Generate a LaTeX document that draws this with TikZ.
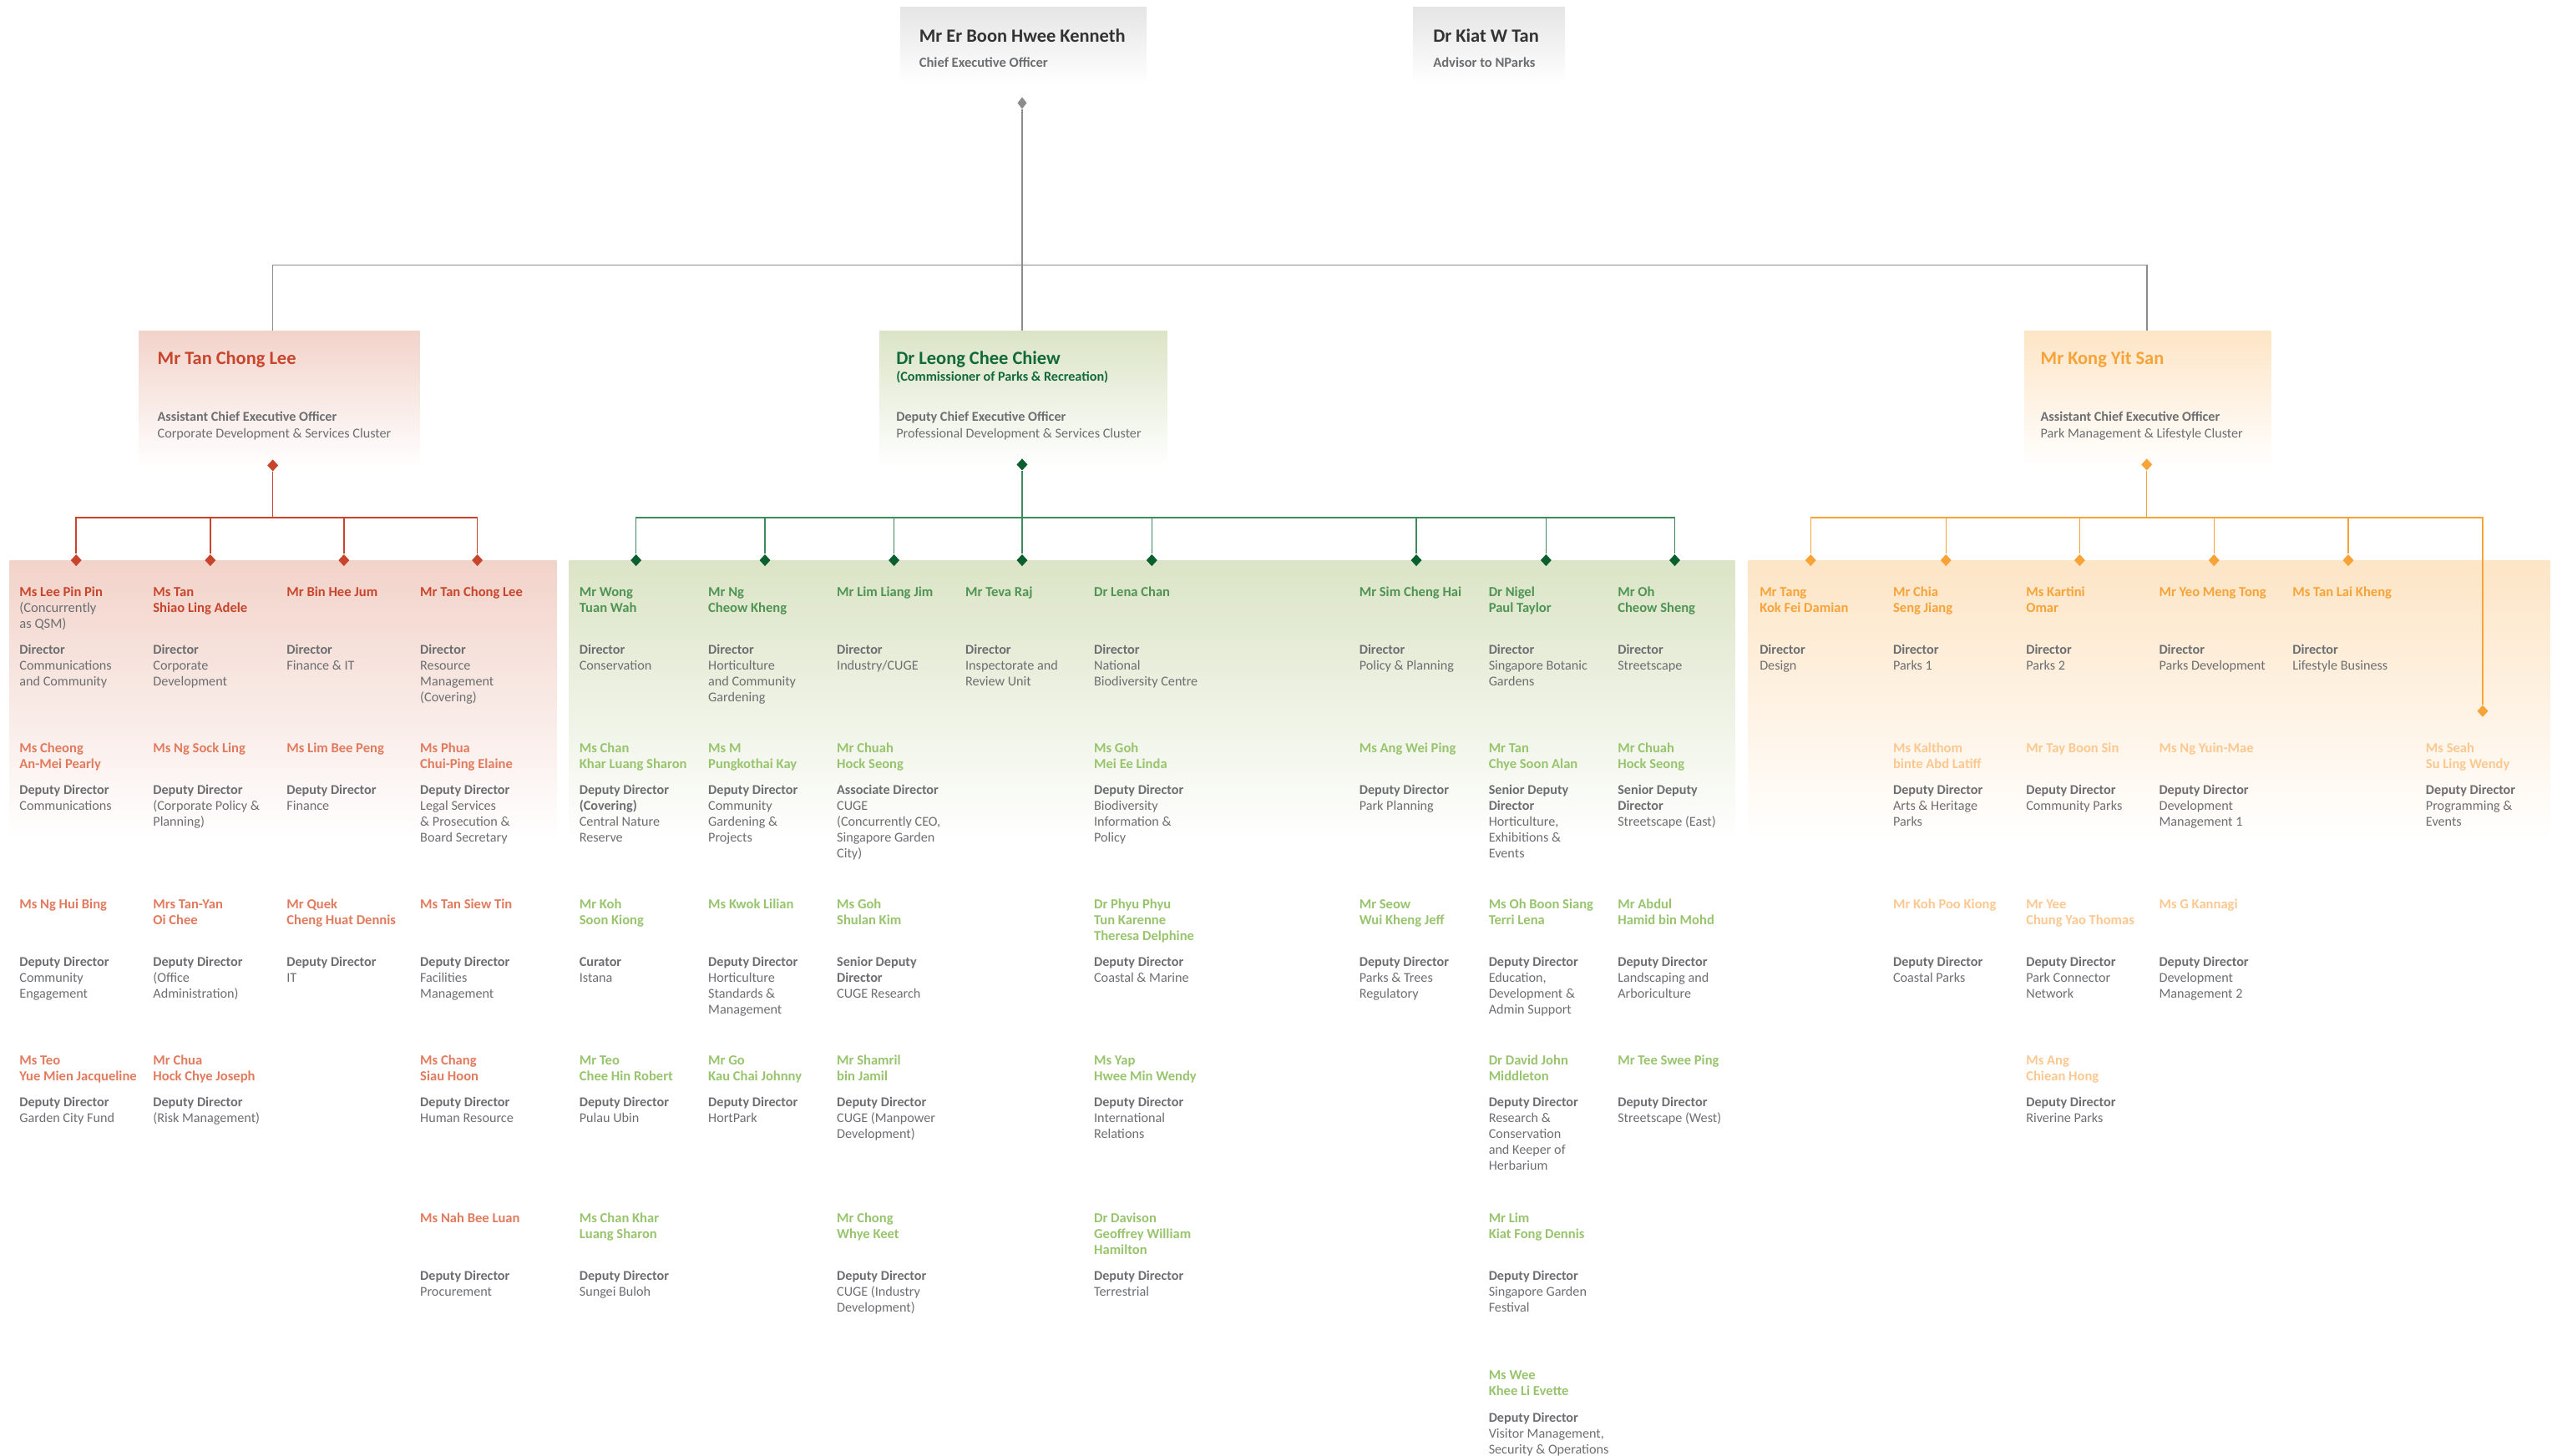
\documentclass[tikz,border=0pt]{standalone}
\usepackage{fontspec}
\setmainfont{Carlito}
\usetikzlibrary{shapes.geometric}
\definecolor{rdark}{HTML}{C8452C}
\definecolor{rlight}{HTML}{E27B5E}
\definecolor{rpanel}{HTML}{F2D3CA}
\definecolor{gdark}{HTML}{11693A}
\definecolor{gdia}{HTML}{0B5F2F}
\definecolor{gline}{HTML}{3E8A5C}
\definecolor{gmid}{HTML}{4F9455}
\definecolor{glight}{HTML}{98C46E}
\definecolor{gpanel}{HTML}{DBE4C6}
\definecolor{odark}{HTML}{F7A338}
\definecolor{olight}{HTML}{FCC890}
\definecolor{opanel}{HTML}{FDE5C6}
\definecolor{txt}{HTML}{6D6E71}
\definecolor{txtd}{HTML}{333333}
\definecolor{kline}{HTML}{8C8C8C}
\definecolor{kpanel}{HTML}{E5E5E5}
\def\ynA{359.6}\def\ytA{394.8}
\def\ynB{455.4}\def\ytB{481.2}
\def\ynC{551.5}\def\ytC{586.7}
\def\ynD{647.4}\def\ytD{673.1}
\def\ynE{744.4}\def\ytE{779.8}
\def\ynF{840.8}\def\ytF{866.8}
\newcommand\ttl[1]{\textbf{#1}}
\newcommand\reg[1]{{\mdseries\color{txt}#1}}
\newcommand\orgp[7]{%
  \node[nm,text=#5] (#1) at (#2,#3) {\rule{0pt}{7pt}#6};
  \node[rl] (#1r) at (#2,#4) {\rule{0pt}{7pt}#7};}
\begin{document}
\begin{tikzpicture}[x=1pt,y=-1pt,
  nm/.style={anchor=north west,inner sep=0pt,align=left,font=\bfseries\fontsize{8.5}{9.7}\selectfont},
  rl/.style={anchor=north west,inner sep=0pt,align=left,text=txt,font=\fontsize{8.3}{9.7}\selectfont},
  hn/.style={anchor=base west,inner sep=0pt,font=\bfseries\fontsize{11.5}{13}\selectfont},
  hr/.style={anchor=base west,inner sep=0pt,text=txt,font=\bfseries\fontsize{8.3}{9.7}\selectfont},
  hd/.style={anchor=base west,inner sep=0pt,text=txt,font=\fontsize{8.3}{9.7}\selectfont},
  hbox/.style={anchor=north west,inner sep=0pt,draw=none},
  dia/.style={shape=diamond,inner sep=0pt,minimum width=6.8pt,minimum height=7.4pt,draw=none},
  kdia/.style={dia,fill=kline,minimum width=5.8pt},
  rdia/.style={dia,fill=rdark},
  gdia/.style={dia,fill=gdia},
  odia/.style={dia,fill=odark},
  kl/.style={draw=kline,line width=0.8pt},
  rln/.style={draw=rdark,line width=0.75pt},
  gln/.style={draw=gline,line width=0.75pt},
  oln/.style={draw=odark,line width=0.75pt}]
\useasboundingbox (0,0) rectangle (1568,894.8);

% ---------- top boxes ----------
\node[hbox,minimum width=151.4pt,minimum height=47pt,top color=kpanel,bottom color=white] (ceo) at (552.9,4.1) {};
\node[hbox,minimum width=93.4pt,minimum height=47pt,top color=kpanel,bottom color=white] (kiat) at (868,4.1) {};
\node[hn,text=txtd] (ceoname) at (564.6,25.9) {Mr Er Boon Hwee Kenneth};
\node[hr,font=\bfseries\fontsize{8.5}{9.7}\selectfont] (ceorole) at (564.6,41.2) {Chief Executive Officer};
\node[hn,text=txtd] (kiatname) at (880.4,25.9) {Dr Kiat W Tan};
\node[hr,font=\bfseries\fontsize{8.5}{9.7}\selectfont] (kiatrole) at (880.4,41.2) {Advisor to NParks};

% ---------- cluster head boxes ----------
\node[hbox,minimum width=172.7pt,minimum height=84pt,top color=rpanel,middle color=rpanel!40!white,bottom color=white] (rbox) at (85,203) {};
\node[hbox,minimum width=177pt,minimum height=84pt,top color=gpanel,middle color=gpanel!40!white,bottom color=white] (gbox) at (540,203) {};
\node[hbox,minimum width=151.3pt,minimum height=84pt,top color=opanel,middle color=opanel!40!white,bottom color=white] (obox) at (1243.7,203) {};

\node[hn,text=rdark] (rname) at (96.6,224) {Mr Tan Chong Lee};
\node[hr] (rrole) at (96.6,258.7) {Assistant Chief Executive Officer};
\node[hd] (rclu) at (96.6,269) {Corporate Development \& Services Cluster};

\node[hn,text=gdark] (gname) at (550.5,224) {Dr Leong Chee Chiew};
\node[hr,text=gdark] (gcom) at (550.5,234.1) {(Commissioner of Parks \& Recreation)};
\node[hr] (grole) at (550.5,258.7) {Deputy Chief Executive Officer};
\node[hd] (gclu) at (550.5,269) {Professional Development \& Services Cluster};

\node[hn,text=odark] (oname) at (1253.6,224) {Mr Kong Yit San};
\node[hr] (orole) at (1253.6,258.7) {Assistant Chief Executive Officer};
\node[hd] (oclu) at (1253.6,269) {Park Management \& Lifestyle Cluster};

% ---------- panels ----------
\node[hbox,minimum width=336.4pt,minimum height=172pt,top color=rpanel,middle color=rpanel!60!white,bottom color=white] (rpan) at (5.6,344.3) {};
\node[hbox,minimum width=716.4pt,minimum height=172pt,top color=gpanel,middle color=gpanel!60!white,bottom color=white] (gpan) at (349.4,344.3) {};
\node[hbox,minimum width=492.5pt,minimum height=172pt,top color=opanel,middle color=opanel!60!white,bottom color=white] (opan) at (1074,344.3) {};

% ---------- connectors: CEO ----------
\node[kdia] (ceod) at (628,63.3) {};
\coordinate (cj) at (628,163);
\coordinate (rtop) at (167.6,203);
\coordinate (gtop) at (628,203);
\coordinate (otop) at (1319,203);
\draw[kl] (ceod) -- (cj);
\draw[kl] (cj) -| (rtop);
\draw[kl] (cj) -| (otop);
\draw[kl] (cj) -- (gtop);

% ---------- connectors: red ----------
\node[rdia] (rd0) at (167.6,286) {};
\coordinate (rj) at (167.6,318);
\node[rdia] (rd1) at (46.8,344.3) {};
\node[rdia] (rd2) at (129.2,344.3) {};
\node[rdia] (rd3) at (211.3,344.3) {};
\node[rdia] (rd4) at (293.3,344.3) {};
\draw[rln] (rd0) -- (rj);
\foreach \d in {rd1,rd2,rd3,rd4} {\draw[rln] (rj) -| (\d);}

% ---------- connectors: green ----------
\node[gdia] (gd0) at (628,285.5) {};
\coordinate (gj) at (628,318);
\node[gdia] (gd1) at (390.8,344.3) {};
\node[gdia] (gd2) at (470,344.3) {};
\node[gdia] (gd3) at (549.3,344.3) {};
\node[gdia] (gd4) at (628,344.3) {};
\node[gdia] (gd5) at (707.7,344.3) {};
\node[gdia] (gd6) at (870.2,344.3) {};
\node[gdia] (gd7) at (949.9,344.3) {};
\node[gdia] (gd8) at (1029,344.3) {};
\draw[gln] (gd0) -- (gj);
\draw[gln] (gj) -- (gd4);
\foreach \d in {gd1,gd2,gd3,gd5,gd6,gd7,gd8} {\draw[gln] (gj) -| (\d);}

% ---------- connectors: orange ----------
\node[odia] (od0) at (1319,285.5) {};
\coordinate (oj) at (1319,318);
\node[odia] (od1) at (1112.5,344.3) {};
\node[odia] (od2) at (1195.6,344.3) {};
\node[odia] (od3) at (1277.8,344.3) {};
\node[odia] (od4) at (1360.3,344.3) {};
\node[odia] (od5) at (1442.8,344.3) {};
\node[odia] (od6) at (1525.4,437) {};
\draw[oln] (od0) -- (oj);
\foreach \d in {od1,od2,od3,od4,od5,od6} {\draw[oln] (oj) -| (\d);}

% ---------- red cluster ----------
\orgp{r11}{11.8}{\ynA}{\ytA}{rdark}{Ms Lee Pin Pin\\\reg{(Concurrently}\\\reg{as QSM)}}{\ttl{Director}\\Communications\\and Community}
\orgp{r12}{11.8}{\ynB}{\ytB}{rlight}{Ms Cheong\\An-Mei Pearly}{\ttl{Deputy Director}\\Communications}
\orgp{r13}{11.8}{\ynC}{\ytC}{rlight}{Ms Ng Hui Bing}{\ttl{Deputy Director}\\Community\\Engagement}
\orgp{r14}{11.8}{\ynD}{\ytD}{rlight}{Ms Teo\\Yue Mien Jacqueline}{\ttl{Deputy Director}\\Garden City Fund}

\orgp{r21}{93.9}{\ynA}{\ytA}{rdark}{Ms Tan\\Shiao Ling Adele}{\ttl{Director}\\Corporate\\Development}
\orgp{r22}{93.9}{\ynB}{\ytB}{rlight}{Ms Ng Sock Ling}{\ttl{Deputy Director}\\(Corporate Policy \&\\Planning)}
\orgp{r23}{93.9}{\ynC}{\ytC}{rlight}{Mrs Tan-Yan\\Oi Chee}{\ttl{Deputy Director}\\(Office\\Administration)}
\orgp{r24}{93.9}{\ynD}{\ytD}{rlight}{Mr Chua\\Hock Chye Joseph}{\ttl{Deputy Director}\\(Risk Management)}

\orgp{r31}{176}{\ynA}{\ytA}{rdark}{Mr Bin Hee Jum}{\ttl{Director}\\Finance \& IT}
\orgp{r32}{176}{\ynB}{\ytB}{rlight}{Ms Lim Bee Peng}{\ttl{Deputy Director}\\Finance}
\orgp{r33}{176}{\ynC}{\ytC}{rlight}{Mr Quek\\Cheng Huat Dennis}{\ttl{Deputy Director}\\IT}

\orgp{r41}{258}{\ynA}{\ytA}{rdark}{Mr Tan Chong Lee}{\ttl{Director}\\Resource\\Management\\(Covering)}
\orgp{r42}{258}{\ynB}{\ytB}{rlight}{Ms Phua\\Chui-Ping Elaine}{\ttl{Deputy Director}\\Legal Services\\\& Prosecution \&\\Board Secretary}
\orgp{r43}{258}{\ynC}{\ytC}{rlight}{Ms Tan Siew Tin}{\ttl{Deputy Director}\\Facilities\\Management}
\orgp{r44}{258}{\ynD}{\ytD}{rlight}{Ms Chang\\Siau Hoon}{\ttl{Deputy Director}\\Human Resource}
\orgp{r45}{258}{\ynE}{\ytE}{rlight}{Ms Nah Bee Luan}{\ttl{Deputy Director}\\Procurement}

% ---------- green cluster ----------
\orgp{g11}{355.8}{\ynA}{\ytA}{gmid}{Mr Wong\\Tuan Wah}{\ttl{Director}\\Conservation}
\orgp{g12}{355.8}{\ynB}{\ytB}{glight}{Ms Chan\\Khar Luang Sharon}{\ttl{Deputy Director}\\\ttl{(Covering)}\\Central Nature\\Reserve}
\orgp{g13}{355.8}{\ynC}{\ytC}{glight}{Mr Koh\\Soon Kiong}{\ttl{Curator}\\Istana}
\orgp{g14}{355.8}{\ynD}{\ytD}{glight}{Mr Teo\\Chee Hin Robert}{\ttl{Deputy Director}\\Pulau Ubin}
\orgp{g15}{355.8}{\ynE}{\ytE}{glight}{Ms Chan Khar\\Luang Sharon}{\ttl{Deputy Director}\\Sungei Buloh}

\orgp{g21}{435}{\ynA}{\ytA}{gmid}{Mr Ng\\Cheow Kheng}{\ttl{Director}\\Horticulture\\and Community\\Gardening}
\orgp{g22}{435}{\ynB}{\ytB}{glight}{Ms M\\Pungkothai Kay}{\ttl{Deputy Director}\\Community\\Gardening \&\\Projects}
\orgp{g23}{435}{\ynC}{\ytC}{glight}{Ms Kwok Lilian}{\ttl{Deputy Director}\\Horticulture\\Standards \&\\Management}
\orgp{g24}{435}{\ynD}{\ytD}{glight}{Mr Go\\Kau Chai Johnny}{\ttl{Deputy Director}\\HortPark}

\orgp{g31}{514}{\ynA}{\ytA}{gmid}{Mr Lim Liang Jim}{\ttl{Director}\\Industry/CUGE}
\orgp{g32}{514}{\ynB}{\ytB}{glight}{Mr Chuah\\Hock Seong}{\ttl{Associate Director}\\CUGE\\(Concurrently CEO,\\Singapore Garden\\City)}
\orgp{g33}{514}{\ynC}{\ytC}{glight}{Ms Goh\\Shulan Kim}{\ttl{Senior Deputy}\\\ttl{Director}\\CUGE Research}
\orgp{g34}{514}{\ynD}{\ytD}{glight}{Mr Shamril\\bin Jamil}{\ttl{Deputy Director}\\CUGE (Manpower\\Development)}
\orgp{g35}{514}{\ynE}{\ytE}{glight}{Mr Chong\\Whye Keet}{\ttl{Deputy Director}\\CUGE (Industry\\Development)}

\orgp{g41}{593}{\ynA}{\ytA}{gmid}{Mr Teva Raj}{\ttl{Director}\\Inspectorate and\\Review Unit}

\orgp{g51}{672}{\ynA}{\ytA}{gmid}{Dr Lena Chan}{\ttl{Director}\\National\\Biodiversity Centre}
\orgp{g52}{672}{\ynB}{\ytB}{glight}{Ms Goh\\Mei Ee Linda}{\ttl{Deputy Director}\\Biodiversity\\Information \&\\Policy}
\orgp{g53}{672}{\ynC}{\ytC}{glight}{Dr Phyu Phyu\\Tun Karenne\\Theresa Delphine}{\ttl{Deputy Director}\\Coastal \& Marine}
\orgp{g54}{672}{\ynD}{\ytD}{glight}{Ms Yap\\Hwee Min Wendy}{\ttl{Deputy Director}\\International\\Relations}
\orgp{g55}{672}{\ynE}{\ytE}{glight}{Dr Davison\\Geoffrey William\\Hamilton}{\ttl{Deputy Director}\\Terrestrial}

\orgp{g61}{835}{\ynA}{\ytA}{gmid}{Mr Sim Cheng Hai}{\ttl{Director}\\Policy \& Planning}
\orgp{g62}{835}{\ynB}{\ytB}{glight}{Ms Ang Wei Ping}{\ttl{Deputy Director}\\Park Planning}
\orgp{g63}{835}{\ynC}{\ytC}{glight}{Mr Seow\\Wui Kheng Jeff}{\ttl{Deputy Director}\\Parks \& Trees\\Regulatory}

\orgp{g71}{914.5}{\ynA}{\ytA}{gmid}{Dr Nigel\\Paul Taylor}{\ttl{Director}\\Singapore Botanic\\Gardens}
\orgp{g72}{914.5}{\ynB}{\ytB}{glight}{Mr Tan\\Chye Soon Alan}{\ttl{Senior Deputy}\\\ttl{Director}\\Horticulture,\\Exhibitions \&\\Events}
\orgp{g73}{914.5}{\ynC}{\ytC}{glight}{Ms Oh Boon Siang\\Terri Lena}{\ttl{Deputy Director}\\Education,\\Development \&\\Admin Support}
\orgp{g74}{914.5}{\ynD}{\ytD}{glight}{Dr David John\\Middleton}{\ttl{Deputy Director}\\Research \&\\Conservation\\and Keeper of\\Herbarium}
\orgp{g75}{914.5}{\ynE}{\ytE}{glight}{Mr Lim\\Kiat Fong Dennis}{\ttl{Deputy Director}\\Singapore Garden\\Festival}
\orgp{g76}{914.5}{\ynF}{\ytF}{glight}{Ms Wee\\Khee Li Evette}{\ttl{Deputy Director}\\Visitor Management,\\Security \& Operations}

\orgp{g81}{993.8}{\ynA}{\ytA}{gmid}{Mr Oh\\Cheow Sheng}{\ttl{Director}\\Streetscape}
\orgp{g82}{993.8}{\ynB}{\ytB}{glight}{Mr Chuah\\Hock Seong}{\ttl{Senior Deputy}\\\ttl{Director}\\Streetscape (East)}
\orgp{g83}{993.8}{\ynC}{\ytC}{glight}{Mr Abdul\\Hamid bin Mohd}{\ttl{Deputy Director}\\Landscaping and\\Arboriculture}
\orgp{g84}{993.8}{\ynD}{\ytD}{glight}{Mr Tee Swee Ping}{\ttl{Deputy Director}\\Streetscape (West)}

% ---------- orange cluster ----------
\orgp{o11}{1081}{\ynA}{\ytA}{odark}{Mr Tang\\Kok Fei Damian}{\ttl{Director}\\Design}

\orgp{o21}{1163}{\ynA}{\ytA}{odark}{Mr Chia\\Seng Jiang}{\ttl{Director}\\Parks 1}
\orgp{o22}{1163}{\ynB}{\ytB}{olight}{Ms Kalthom\\binte Abd Latiff}{\ttl{Deputy Director}\\Arts \& Heritage\\Parks}
\orgp{o23}{1163}{\ynC}{\ytC}{olight}{Mr Koh Poo Kiong}{\ttl{Deputy Director}\\Coastal Parks}

\orgp{o31}{1244.7}{\ynA}{\ytA}{odark}{Ms Kartini\\Omar}{\ttl{Director}\\Parks 2}
\orgp{o32}{1244.7}{\ynB}{\ytB}{olight}{Mr Tay Boon Sin}{\ttl{Deputy Director}\\Community Parks}
\orgp{o33}{1244.7}{\ynC}{\ytC}{olight}{Mr Yee\\Chung Yao Thomas}{\ttl{Deputy Director}\\Park Connector\\Network}
\orgp{o34}{1244.7}{\ynD}{\ytD}{olight}{Ms Ang\\Chiean Hong}{\ttl{Deputy Director}\\Riverine Parks}

\orgp{o41}{1326.4}{\ynA}{\ytA}{odark}{Mr Yeo Meng Tong}{\ttl{Director}\\Parks Development}
\orgp{o42}{1326.4}{\ynB}{\ytB}{olight}{Ms Ng Yuin-Mae}{\ttl{Deputy Director}\\Development\\Management 1}
\orgp{o43}{1326.4}{\ynC}{\ytC}{olight}{Ms G Kannagi}{\ttl{Deputy Director}\\Development\\Management 2}

\orgp{o51}{1408.4}{\ynA}{\ytA}{odark}{Ms Tan Lai Kheng}{\ttl{Director}\\Lifestyle Business}

\orgp{o62}{1490.3}{\ynB}{\ytB}{olight}{Ms Seah\\Su Ling Wendy}{\ttl{Deputy Director}\\Programming \&\\Events}
\end{tikzpicture}
\end{document}
